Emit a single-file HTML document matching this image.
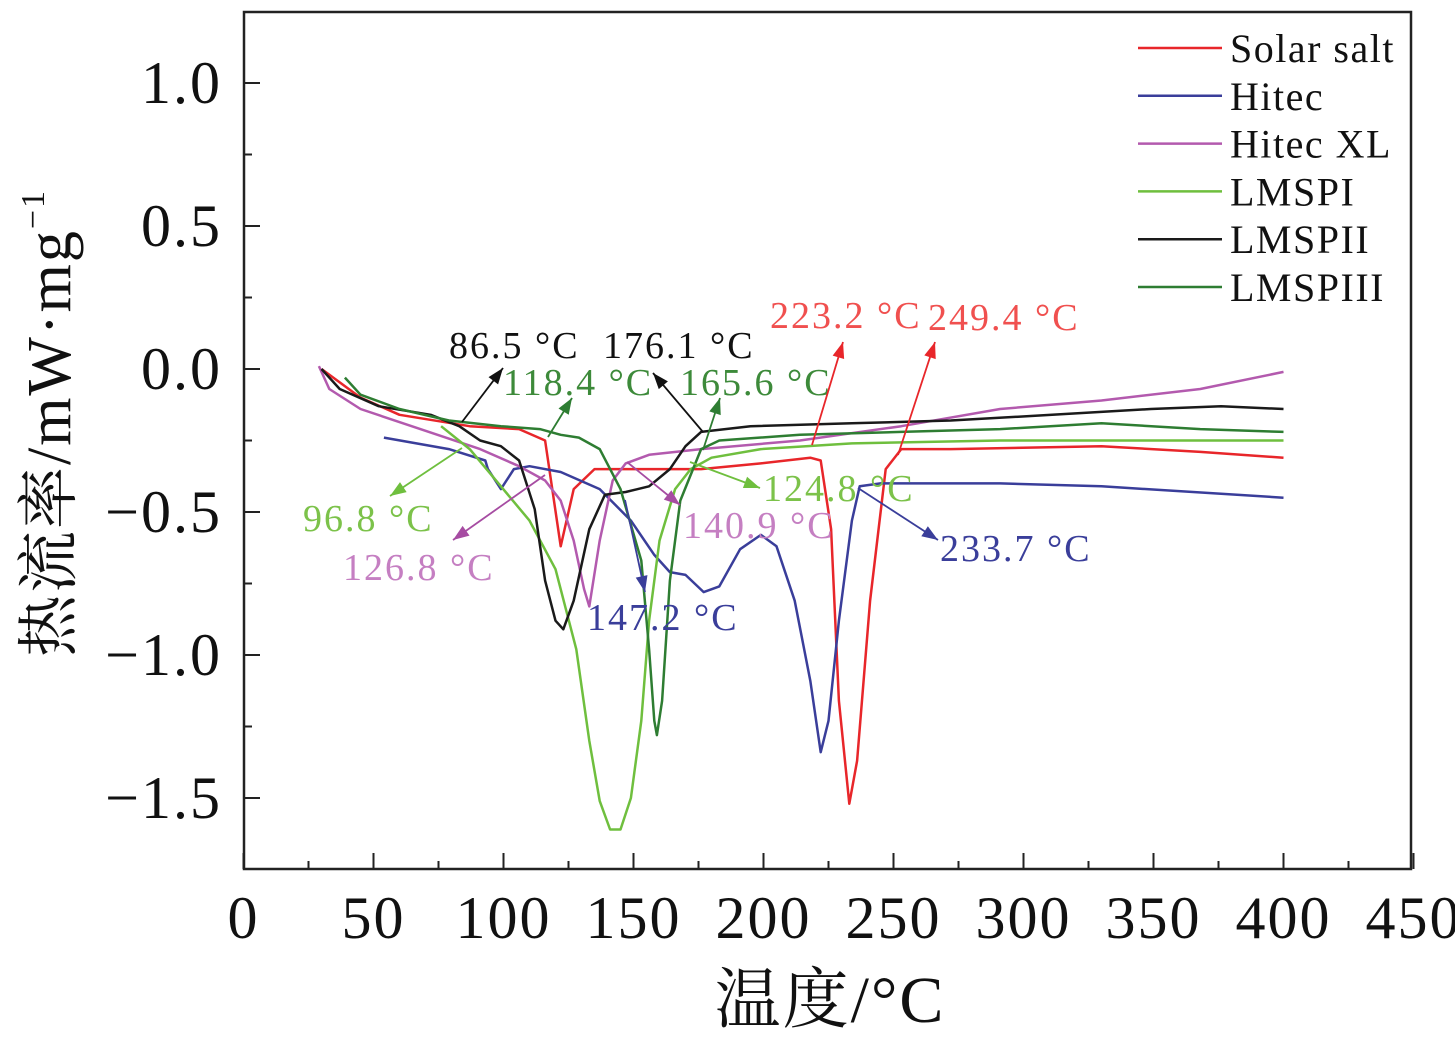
<!DOCTYPE html>
<html><head><meta charset="utf-8"><style>
html,body{margin:0;padding:0;background:#fff;}
svg{display:block;}
text{font-family:"Liberation Serif","Noto Serif CJK SC",serif;}
</style></head><body>
<svg id="chart" width="1455" height="1038" viewBox="0 0 1455 1038" xmlns="http://www.w3.org/2000/svg">
<g id="plot"></g>
</svg>
<script>
const xTicks=[0,50,100,150,200,250,300,350,400,450];
const yTicks=[1.0,0.5,0.0,-0.5,-1.0,-1.5];
const yTickLabels=["1.0","0.5","0.0","\u22120.5","\u22121.0","\u22121.5"];
const seriesNames=["Solar salt","Hitec","Hitec XL","LMSPI","LMSPII","LMSPIII"];
const seriesColors=["#e8262a","#3a3e9a","#b35aae","#6fbf3e","#1a1a1a","#2e7d32"];
const solarT=[30,45,60,87,106,116,122,127,135,156,176,199,218,222,226,229,233,236,241,247,253,272,330,368,400];
const solarV=[0,-0.1,-0.16,-0.2,-0.21,-0.25,-0.62,-0.42,-0.35,-0.35,-0.35,-0.33,-0.31,-0.32,-0.56,-1.16,-1.52,-1.37,-0.81,-0.35,-0.28,-0.28,-0.27,-0.29,-0.31];
const hitecT=[54,79,93,94,99,104,110,122,137,149,158,164,170,177,183,191,199,205,212,218,222,225,229,234,237,245,291,330,400];
const hitecV=[-0.24,-0.28,-0.32,-0.35,-0.42,-0.35,-0.34,-0.36,-0.42,-0.53,-0.65,-0.71,-0.72,-0.78,-0.76,-0.63,-0.58,-0.62,-0.81,-1.09,-1.34,-1.23,-0.88,-0.53,-0.41,-0.4,-0.4,-0.41,-0.45];
const xlT=[29,33,45,68,91,106,116,122,127,131,133,137,142,147,156,176,214,253,291,330,368,400];
const xlV=[0.01,-0.07,-0.14,-0.21,-0.28,-0.34,-0.39,-0.46,-0.6,-0.77,-0.83,-0.6,-0.39,-0.33,-0.3,-0.28,-0.25,-0.2,-0.14,-0.11,-0.07,-0.01];
const l1T=[76,87,99,110,120,128,133,137,141,145,149,153,156,160,166,172,180,199,234,291,400];
const l1V=[-0.2,-0.28,-0.41,-0.53,-0.7,-0.98,-1.3,-1.51,-1.61,-1.61,-1.5,-1.23,-0.88,-0.6,-0.42,-0.35,-0.31,-0.28,-0.26,-0.25,-0.25];
const l2T=[30,37,52,72,83,91,99,106,112,116,120,123,127,133,139,147,156,164,170,176,195,234,272,311,349,376,400];
const l2V=[0,-0.07,-0.13,-0.16,-0.2,-0.25,-0.27,-0.32,-0.49,-0.74,-0.88,-0.91,-0.81,-0.56,-0.44,-0.43,-0.41,-0.35,-0.27,-0.22,-0.2,-0.19,-0.18,-0.16,-0.14,-0.13,-0.14];
const l3T=[39,45,60,79,99,114,122,129,137,145,153,156,158,159,161,164,168,176,183,214,253,291,330,368,400];
const l3V=[-0.03,-0.09,-0.14,-0.18,-0.2,-0.21,-0.23,-0.24,-0.28,-0.42,-0.67,-0.98,-1.23,-1.28,-1.16,-0.74,-0.46,-0.28,-0.25,-0.23,-0.22,-0.21,-0.19,-0.21,-0.22];
const seriesT=[solarT,hitecT,xlT,l1T,l2T,l3T];
const seriesV=[solarV,hitecV,xlV,l1V,l2V,l3V];

const NS="http://www.w3.org/2000/svg";
const L=244,R=1411,T=12,B=869;
const xS=t=>243.5+t*2.6;
const yS=v=>369-v*286;
const g=document.getElementById('plot');
function mk(tag,attrs,parent){const e=document.createElementNS(NS,tag);for(const k in attrs)e.setAttribute(k,attrs[k]);(parent||g).appendChild(e);return e;}

seriesT.forEach((ts,i)=>{
  const d=ts.map((t,j)=>(j?'L':'M')+xS(t).toFixed(1)+','+yS(seriesV[i][j]).toFixed(1)).join(' ');
  const p=mk('path',{d:d,fill:'none',stroke:seriesColors[i],'stroke-width':2.5,'stroke-linejoin':'round'});
  
  
});

const fr=mk('rect',{x:L,y:T,width:R-L,height:B-T,fill:'none',stroke:'#222','stroke-width':2.5});



for(let t=0;t<=450;t+=25){
  const major=t%50===0, x=xS(t);
  const tk=mk('line',{x1:x,y1:B,x2:x,y2:B-(major?16:8),stroke:'#222','stroke-width':2});
  
  
}
xTicks.forEach(t=>{
  const tx=mk('text',{x:xS(t),y:938,'text-anchor':'middle','font-size':60,'letter-spacing':2,fill:'#111'});
  tx.textContent=String(t);
  
  
});
for(let v=-1.75;v<=1.25;v+=0.25){
  const major=Math.abs(Math.round(v*2)-v*2)<1e-6, y=yS(v);
  if(y<T||y>B)continue;
  const tk=mk('line',{x1:L,y1:y,x2:L+(major?16:8),y2:y,stroke:'#222','stroke-width':2});
  
  
}
yTicks.forEach((v,i)=>{
  const tx=mk('text',{x:222,y:yS(v)+20,'text-anchor':'end','font-size':60,'letter-spacing':2,fill:'#111'});
  tx.textContent=yTickLabels[i];
  
  
});
const xt=mk('text',{x:830,y:1022,'text-anchor':'middle','font-size':66,'letter-spacing':2,fill:'#111'});
xt.textContent='温度/°C';


const yt=mk('text',{x:0,y:0,'text-anchor':'middle','font-size':62,'letter-spacing':2,fill:'#111',transform:'translate(70,423) rotate(-90)'});
yt.innerHTML='热流率/mW·mg<tspan dy="-26" font-size="34">−1</tspan>';



seriesNames.forEach((n,i)=>{
  const y=48+i*47.8;
  const ln=mk('line',{x1:1138,y1:y,x2:1222,y2:y,stroke:seriesColors[i],'stroke-width':2.5});
  
  
  const tx=mk('text',{x:1230,y:y+14,'font-size':40,'letter-spacing':1.5,fill:'#111'});
  tx.textContent=n;
  
  
});

const ann=[
 ["86.5 °C","#111",449,358,462,422,503,368],
 ["118.4 °C","#3d8a3a",503,395,548,437,572,398],
 ["176.1 °C","#111",603,358,703,432,653,373],
 ["165.6 °C","#3d8a3a",680,395,703,450,720,398],
 ["223.2 °C","#f0504f",770,328,812,445,843,342],
 ["249.4 °C","#f0504f",928,330,898,455,935,342],
 ["96.8 °C","#7cc24a",303,531,462,448,390,496],
 ["126.8 °C","#c57fc2",343,580,545,475,453,540],
 ["147.2 °C","#3a3e9a",587,630,625,500,645,592],
 ["140.9 °C","#c57fc2",683,538,627,462,680,505],
 ["124.8 °C","#7cc24a",763,501,690,462,760,488],
 ["233.7 °C","#3a3e9a",940,561,858,488,938,540]
];
const darker={"#111":"#111","#3d8a3a":"#2e7d32","#f0504f":"#e8262a","#7cc24a":"#6fbf3e","#c57fc2":"#a64ca2","#3a3e9a":"#3a3e9a"};
ann.forEach(a=>{
  const col=darker[a[1]];
  const ln=mk('line',{x1:a[4],y1:a[5],x2:a[6],y2:a[7],stroke:col,'stroke-width':1.8});
  
  
  const ang=Math.atan2(a[7]-a[5],a[6]-a[4]),s=16,w=6;
  const bx=a[6]-s*Math.cos(ang),by=a[7]-s*Math.sin(ang);
  const pts=[[a[6],a[7]],[bx-w*Math.sin(ang),by+w*Math.cos(ang)],[bx+w*Math.sin(ang),by-w*Math.cos(ang)]];
  const hd=mk('polygon',{points:pts.map(p=>p.join(',')).join(' '),fill:col});
  
  
  const tx=mk('text',{x:a[2],y:a[3],'font-size':38,'letter-spacing':2,fill:a[1]});
  tx.textContent=a[0];
  
  
});
</script>
</body></html>
